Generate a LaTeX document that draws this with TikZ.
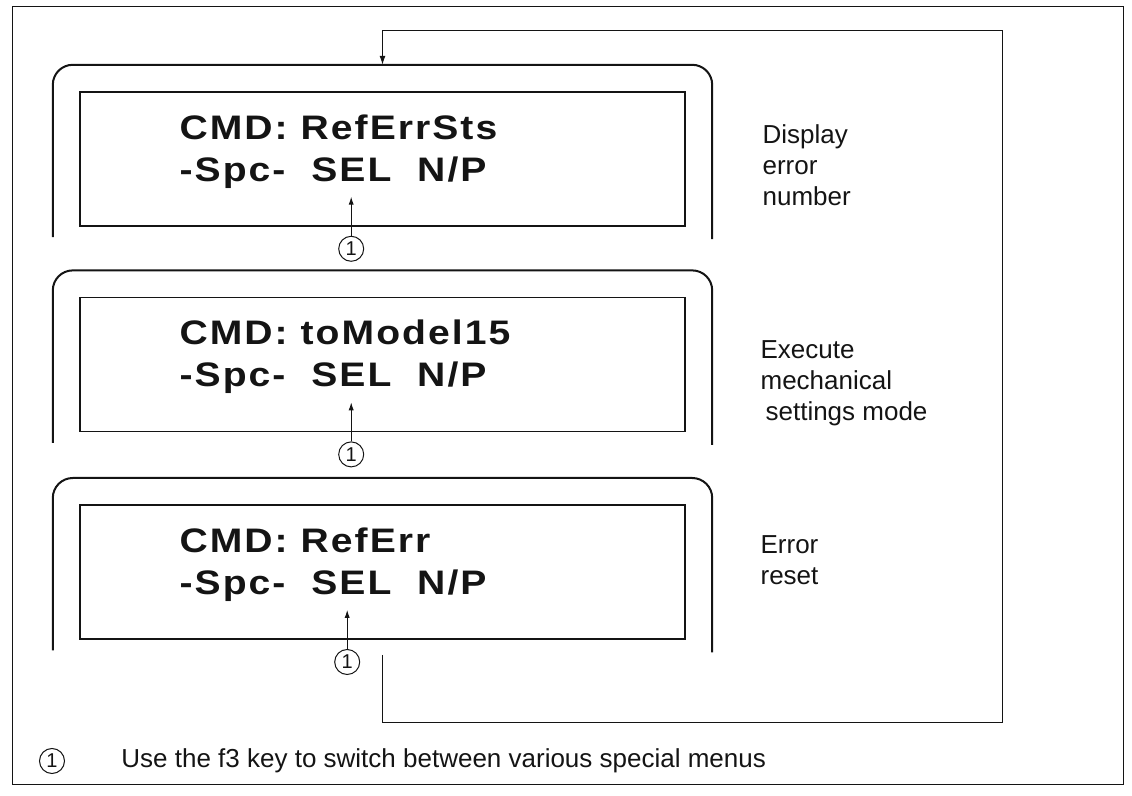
\documentclass[tikz,border=0pt]{standalone}
\usepackage{fontspec}
\setmainfont{Liberation Sans}
\newfontfamily\lcdfont{Liberation Sans}[FakeStretch=1.15,LetterSpace=6]
\usetikzlibrary{arrows.meta,positioning,calc,fit}
\definecolor{ink}{RGB}{20,20,20}
\tikzset{
  screen/.style={draw=ink,line width=0.8pt,minimum width=302.5pt,minimum height=67pt,inner sep=0pt},
  lcd/.style={inner sep=0pt,align=left,text=ink,font=\lcdfont\bfseries\fontsize{17}{21}\selectfont},
  note/.style={inner sep=0pt,align=left,text=ink,font=\fontsize{13}{15.5}\selectfont},
  num/.style={circle,draw=ink,line width=0.5pt,inner sep=0pt,minimum size=12.5pt,text=ink,font=\fontsize{10}{10}\selectfont},
  bezel/.style={draw=ink,line width=1pt,rounded corners=10pt},
  ptr/.style={-{Latex[length=4pt,width=2.6pt]},draw=ink,line width=0.5pt},
  flow/.style={-{Latex[length=4.5pt,width=3pt]},draw=ink,line width=0.5pt},
}
\begin{document}
\begin{tikzpicture}[x=0.5pt,y=-0.5pt,node distance=35pt]
\useasboundingbox (0,0) rectangle (1132,796);
\draw[ink,line width=0.5pt] (12,7) rectangle (1123,785);

% screens
\node[screen] (s1) at (382.5,159) {};
\node[screen,below=of s1] (s2) {};
\node[screen,below=36pt of s2] (s3) {};

% bezels round the screens
\node[fit=(s1),inner sep=13pt] (b1) {};
\node[fit=(s2),inner sep=13pt] (b2) {};
\node[fit=(s3),inner sep=13pt] (b3) {};
\draw[bezel] ([yshift=8pt]b1.south west) |- (b1.north) -| ([yshift=7pt]b1.south east);
\draw[bezel] ([yshift=8pt]b2.south west) |- (b2.north) -| ([yshift=7pt]b2.south east);
\draw[bezel] ([yshift=8pt]b3.south west) |- (b3.north) -| ([yshift=7pt]b3.south east);

% display lines
\node[lcd,below right=11.5pt and 50pt of s1.north west] (l1) {CMD: RefErrSts\\-Spc-\ \ SEL\ \ N/P};
\node[lcd,below right=11.5pt and 50pt of s2.north west] (l2) {CMD: toModel15\\-Spc-\ \ SEL\ \ N/P};
\node[lcd,below right=11.5pt and 50pt of s3.north west] (l3) {CMD: RefErr\\-Spc-\ \ SEL\ \ N/P};

% key marks
\node[num] (c1) at ($(s1.south west)+(136pt,-11pt)$) {1};
\node[num] (c2) at ($(s2.south west)+(136pt,-11pt)$) {1};
\node[num] (c3) at ($(s3.south west)+(134pt,-11pt)$) {1};
\draw[ptr] (c1.north) -- ($(c1 |- l1.south)+(0,-4pt)$);
\draw[ptr] (c2.north) -- ($(c2 |- l2.south)+(0,-4pt)$);
\draw[ptr] (c3.north) -- ($(c3 |- l3.south)+(0,-4pt)$);

% notes
\node[note,below right=29.5pt and 25pt of b1.north east] (d1) {Display\\error\\number};
\node[note,below right=35pt and 24pt of b2.north east] (d2) {Execute\\mechanical\\\hspace{2.5pt}settings mode};
\node[note,below right=28.5pt and 24pt of b3.north east] (d3) {Error\\reset};

% back to the first menu
\coordinate (back) at ($(s3.south)+(0,-7.5pt)$);
\draw[flow] (back) |- ++(310pt,-34pt) |- ($(b1.north)+(0,17pt)$) -- (b1.north);

% footnote
\node[num] (f0) at (52,761) {1};
\node[note,right=28pt of f0] (f1) {Use the f3 key to switch between various special menus};
\end{tikzpicture}
\end{document}
